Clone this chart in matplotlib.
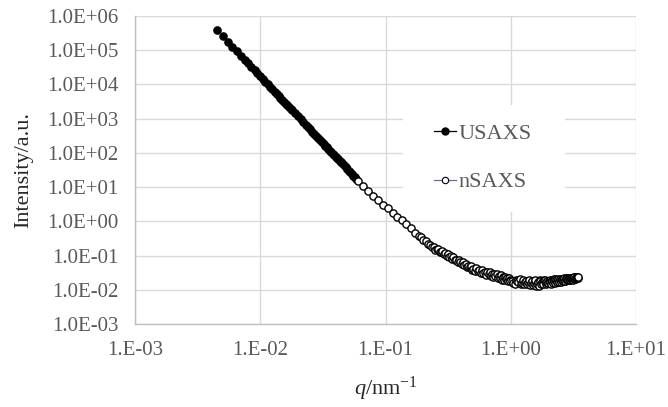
import math
import matplotlib.pyplot as plt
from matplotlib.ticker import FixedLocator, FuncFormatter, NullLocator
from matplotlib.lines import Line2D
from matplotlib.patches import Rectangle

plt.rcParams['font.family'] = ['Liberation Serif', 'DejaVu Serif']
plt.rcParams['mathtext.fontset'] = 'custom'
plt.rcParams['mathtext.rm'] = 'Liberation Serif'
plt.rcParams['mathtext.it'] = 'Liberation Serif:italic'

# === USAXS (q in nm^-1, intensity in a.u.)
usaxs_q = [0.0045, 0.0050, 0.0055, 0.0060, 0.0065, 0.0070, 0.0075, 0.0080, 0.0085, 0.0090,
           0.0095, 0.0100, 0.0105, 0.0110, 0.0115, 0.0120, 0.0125, 0.0130, 0.0135, 0.0140,
           0.0145, 0.0150, 0.0155, 0.0160, 0.0165, 0.0170, 0.0175, 0.0180, 0.0190, 0.0200,
           0.0210, 0.0220, 0.0230, 0.0240, 0.0250, 0.0260, 0.0270, 0.0280, 0.0290, 0.0300,
           0.0310, 0.0320, 0.0330, 0.0340, 0.0350, 0.0360, 0.0370, 0.0380, 0.0390, 0.0400,
           0.0410, 0.0420, 0.0430, 0.0440, 0.0450, 0.0465, 0.0480, 0.0495, 0.0510, 0.0525,
           0.0540, 0.0555, 0.0570, 0.0585]
usaxs_i = [3.9e5, 2.58e5, 1.78e5, 1.27e5, 9.3e4, 6.96e4, 5.32e4, 4.13e4, 3.26e4, 2.61e4,
           2.12e4, 1.73e4, 1.43e4, 1.19e4, 1.00e4, 8.5e3, 7.26e3, 6.22e3, 5.37e3, 4.67e3,
           4.06e3, 3.56e3, 3.13e3, 2.77e3, 2.45e3, 2.19e3, 1.95e3, 1.75e3, 1.42e3, 1.16e3,
           960, 800, 673, 570, 486, 417, 360, 312, 272, 239,
           210, 186, 164, 147, 131, 117, 105, 94.8, 85.7, 77.8,
           70.6, 64.3, 58.6, 53.6, 49.1, 43.2, 38.2, 33.9, 30.1, 26.9,
           24.1, 21.7, 19.5, 17.7]

# === nSAXS
nsaxs_q = [0.0605, 0.0665, 0.0728, 0.0798, 0.0875, 0.0959, 0.105, 0.114, 0.124, 0.135,
           0.147, 0.160, 0.172, 0.185, 0.193, 0.200, 0.209, 0.218, 0.227, 0.236,
           # 0.24 - 0.5
           0.243, 0.250, 0.257, 0.264, 0.271, 0.278, 0.285, 0.292, 0.300, 0.308,
           0.316, 0.324, 0.332, 0.340, 0.349, 0.358, 0.367, 0.376, 0.385, 0.395,
           0.405, 0.415, 0.425, 0.436, 0.447, 0.458, 0.469, 0.480, 0.491, 0.502,
           # 0.5 - 1
           0.515, 0.530, 0.545, 0.560, 0.575, 0.590, 0.605, 0.620, 0.635, 0.650,
           0.665, 0.680, 0.695, 0.710, 0.725, 0.740, 0.755, 0.770, 0.785, 0.800,
           0.815, 0.830, 0.845, 0.860, 0.875, 0.890, 0.905, 0.920, 0.935, 0.950,
           0.965, 0.980, 0.995,
           # 1 - 3.45
           1.025, 1.050, 1.075, 1.100, 1.125, 1.150, 1.175, 1.200, 1.225, 1.250,
           1.275, 1.300, 1.325, 1.350, 1.375, 1.400, 1.425, 1.450, 1.475, 1.500,
           1.525, 1.550, 1.575, 1.600, 1.625, 1.650, 1.675, 1.700, 1.725, 1.750,
           1.775, 1.800, 1.825, 1.850, 1.875, 1.900, 1.925, 1.950, 1.975, 2.000,
           2.025, 2.050, 2.075, 2.100, 2.125, 2.150, 2.175, 2.200, 2.225, 2.250,
           2.275, 2.300, 2.325, 2.350, 2.375, 2.400, 2.425, 2.450, 2.475, 2.500,
           2.525, 2.550, 2.575, 2.600, 2.625, 2.650, 2.675, 2.700, 2.725, 2.750,
           2.775, 2.800, 2.825, 2.850, 2.875, 2.900, 2.925, 2.950, 2.975, 3.000,
           3.025, 3.050, 3.075, 3.100, 3.125, 3.150, 3.175, 3.200, 3.225, 3.250,
           3.275, 3.300, 3.325, 3.350, 3.375, 3.400, 3.425, 3.450]
nsaxs_i = [15.3, 10.7, 7.8, 5.6, 4.2, 3.1, 2.4, 1.8, 1.36, 1.08,
           0.81, 0.62, 0.47, 0.37, 0.34, 0.28, 0.26, 0.215, 0.20, 0.175,
           0.180, 0.150, 0.156, 0.156, 0.125, 0.129, 0.132, 0.111, 0.116, 0.096,
           0.108, 0.093, 0.095, 0.080, 0.090, 0.075, 0.076, 0.064, 0.072, 0.065,
           0.057, 0.063, 0.054, 0.055, 0.046, 0.051, 0.045, 0.048, 0.039, 0.041,
           0.0363, 0.0419, 0.0353, 0.0374, 0.0304, 0.0377, 0.0307, 0.0321, 0.0267, 0.0324,
           0.0284, 0.0327, 0.0252, 0.0282, 0.0230, 0.0287, 0.0253, 0.0284, 0.0222, 0.0247,
           0.0227, 0.0273, 0.0198, 0.0243, 0.0224, 0.0195, 0.0243, 0.0201, 0.0222, 0.0176,
           0.0221, 0.0196, 0.0181,
           0.0185, 0.0158, 0.0151, 0.0196, 0.0179, 0.0166, 0.0200, 0.0149, 0.0160, 0.0192,
           0.0143, 0.0171, 0.0186, 0.0152, 0.0166, 0.0188, 0.0135, 0.0163, 0.0181, 0.0139,
           0.0157, 0.0185, 0.0193, 0.0127, 0.0148, 0.0174, 0.0131, 0.0198, 0.0184, 0.0150,
           0.0165, 0.0169, 0.0147, 0.0190, 0.0192, 0.0145, 0.0170, 0.0178, 0.0155, 0.0160,
           0.0183, 0.0196, 0.0168, 0.0152, 0.0199, 0.0181, 0.0158, 0.0201, 0.0177, 0.0163,
           0.0209, 0.0187, 0.0167, 0.0172, 0.0189, 0.0205, 0.0180, 0.0166, 0.0208, 0.0193,
           0.0173, 0.0211, 0.0197, 0.0176, 0.0184, 0.0198, 0.0215, 0.0185, 0.0182, 0.0214,
           0.0201, 0.0190, 0.0222, 0.0206, 0.0193, 0.0219, 0.0209, 0.0195, 0.0199, 0.0210,
           0.0226, 0.0224, 0.0211, 0.0203, 0.0198, 0.0217, 0.0222, 0.0229, 0.0232, 0.0212,
           0.0209, 0.0225, 0.0219, 0.0233, 0.0235, 0.0222, 0.0227, 0.0236]

x_ticks = [1e-3, 1e-2, 1e-1, 1e0, 1e1]
y_ticks = [1e-3, 1e-2, 1e-1, 1e0, 1e1, 1e2, 1e3, 1e4, 1e5, 1e6]

grey = '#595959'
grid_col = '#d9d9d9'

fig = plt.figure(figsize=(6.68, 4.07), dpi=100)
ax = fig.add_axes([0.2021, 0.2039, 0.7500, 0.7568])

ax.plot(usaxs_q, usaxs_i, linestyle='none', marker='o', markersize=5.2,
        color='black', zorder=3)
ax.plot(nsaxs_q, nsaxs_i, linestyle='none', marker='o', markersize=5.2,
        markerfacecolor='white', markeredgecolor='black', markeredgewidth=1.0, zorder=4)

ax.set_xscale('log')
ax.set_yscale('log')
ax.set_xlim(1e-3, 1e1)
ax.set_ylim(1e-3, 1e6)

ax.xaxis.set_major_locator(FixedLocator(x_ticks))
ax.yaxis.set_major_locator(FixedLocator(y_ticks))
ax.xaxis.set_minor_locator(NullLocator())
ax.yaxis.set_minor_locator(NullLocator())


def x_fmt(v, pos):
    e = int(round(math.log10(v)))
    return f"1.E{e:+03d}"


ax.xaxis.set_major_formatter(FuncFormatter(x_fmt))
ax.yaxis.set_major_formatter(FuncFormatter(lambda v, pos: f"{v:.1E}"))

ax.tick_params(axis='both', length=0, labelsize=15, labelcolor=grey)
ax.tick_params(axis='x', pad=12)
ax.tick_params(axis='y', pad=12)

ax.set_axisbelow(True)
ax.grid(True, color=grid_col, linewidth=1.0)
for s in ['top', 'right']:
    ax.spines[s].set_visible(False)
for s in ['left', 'bottom']:
    ax.spines[s].set_color('#bfbfbf')
    ax.spines[s].set_linewidth(1.0)

ax.set_ylabel('Intensity/a.u.', fontsize=16, color='#262626', labelpad=10)
ax.set_xlabel(r'$q$/nm$^{\mathrm{-1}}$', fontsize=16, color='#262626', labelpad=11)

# white box behind the legend, hiding the grid
ax.add_patch(Rectangle((0.5343, 0.3646), 0.324, 0.3464, transform=ax.transAxes,
                       facecolor='white', edgecolor='none', zorder=1))

handles = [
    Line2D([], [], color='black', linewidth=0.9, marker='o', markersize=5.0),
    Line2D([], [], color='#8064a2', linewidth=0.9, marker='o', markersize=4.6,
           markerfacecolor='white', markeredgecolor='black', markeredgewidth=0.8),
]
leg = ax.legend(handles, ['USAXS', 'nSAXS'], loc='center', bbox_to_anchor=(0.6946, 0.539),
                frameon=False, fontsize=16, handlelength=1.0, handletextpad=0.1,
                labelspacing=1.25, borderpad=0)
for t in leg.get_texts():
    t.set_color(grey)

plt.savefig('out.png', dpi=100)
